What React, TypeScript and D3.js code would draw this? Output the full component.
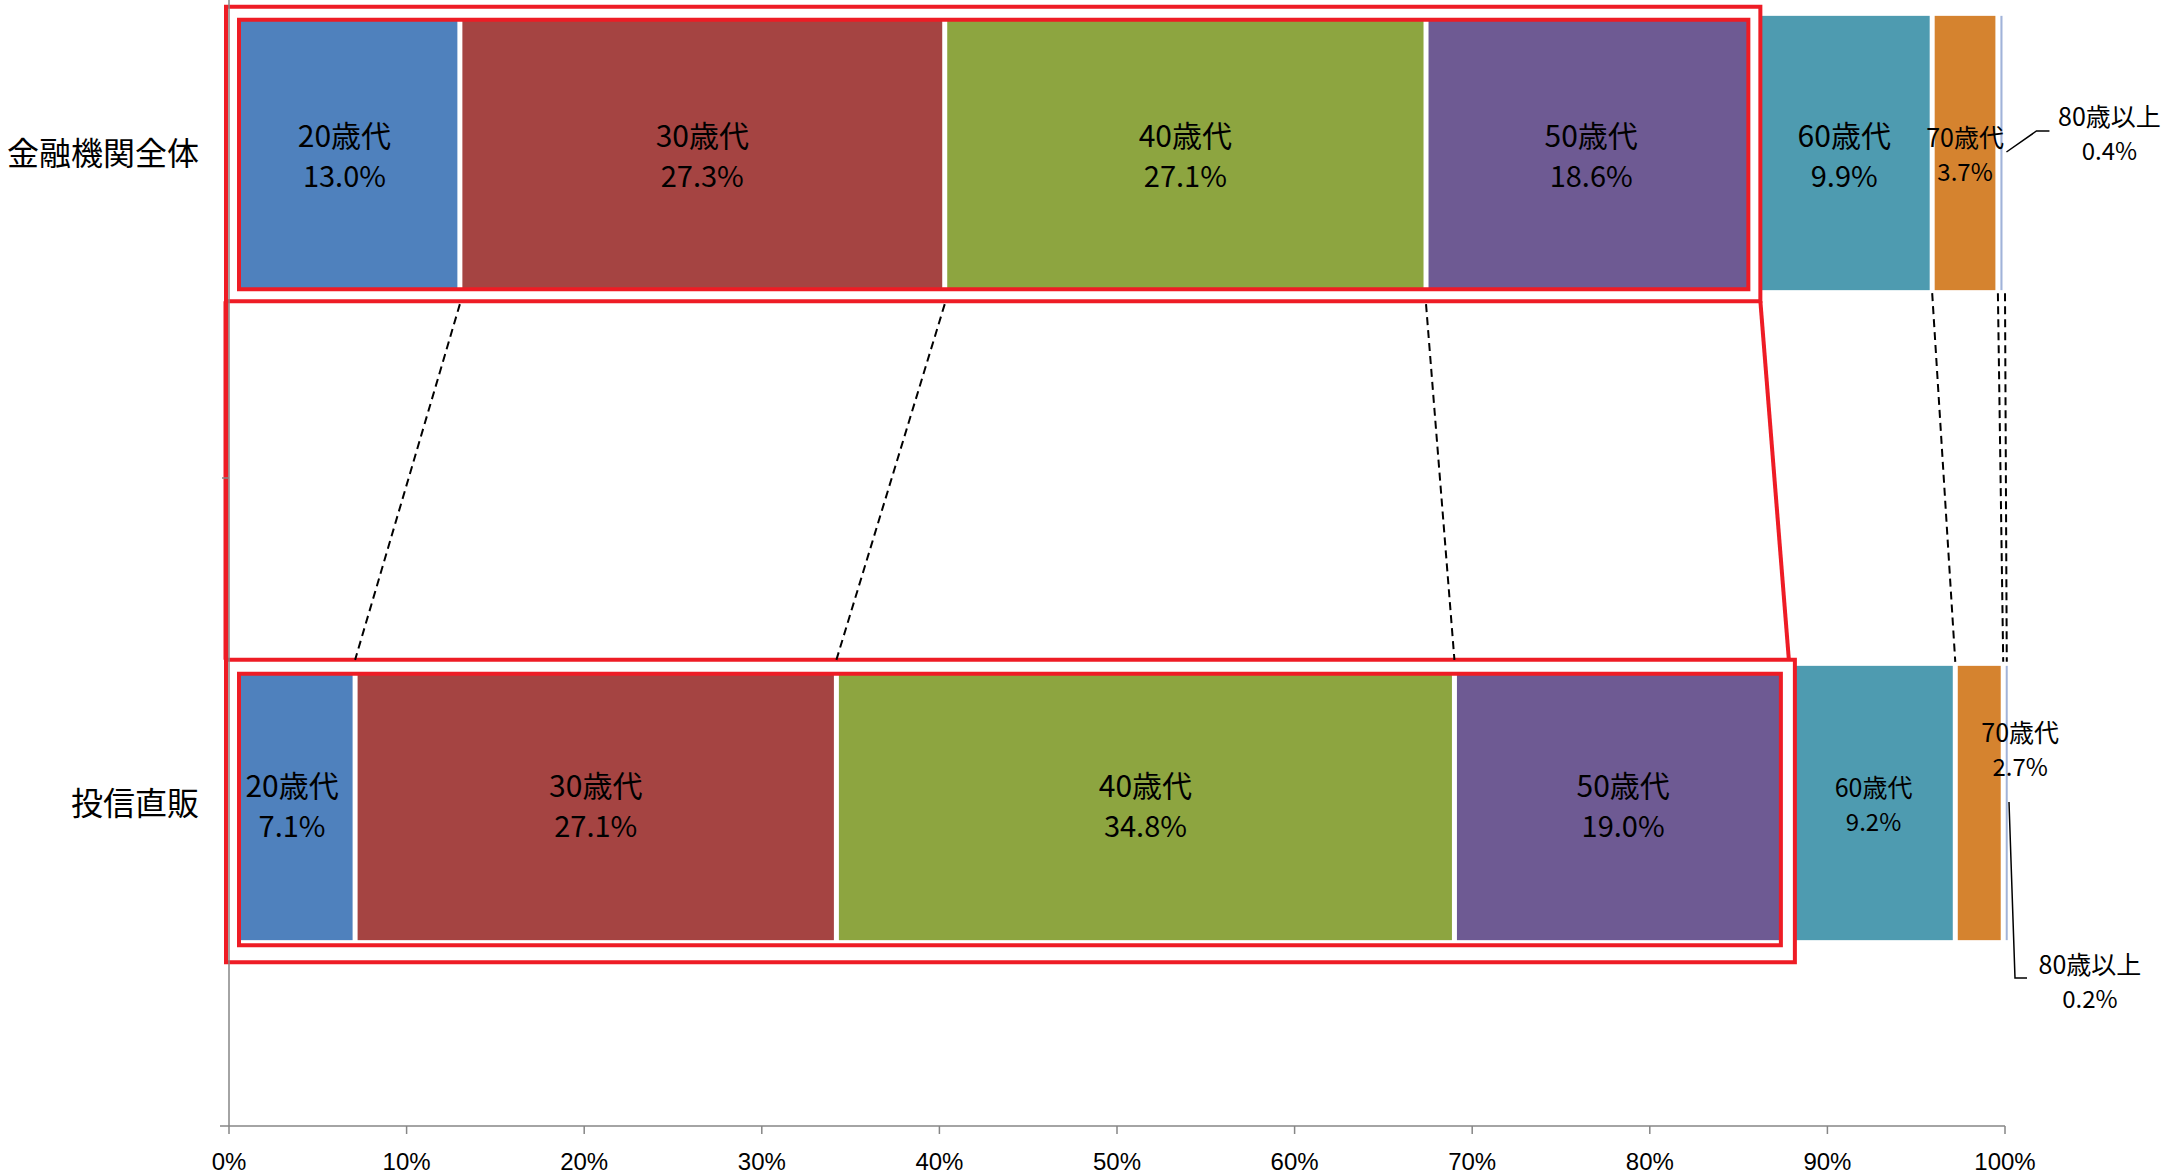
import React from "react";
import * as d3 from "d3";

const categories = ["金融機関全体", "投信直販"];
const ageGroups = ["20歳代", "30歳代", "40歳代", "50歳代", "60歳代", "70歳代", "80歳以上"];
const allInstitutions = [13.0, 27.3, 27.1, 18.6, 9.9, 3.7, 0.4];
const directSales = [7.1, 27.1, 34.8, 19.0, 9.2, 2.7, 0.2];
const seriesValues = [allInstitutions, directSales];
const xTicks = [0, 10, 20, 30, 40, 50, 60, 70, 80, 90, 100];

const colors = ["#4F81BD", "#A54442", "#8DA540", "#6E5A93", "#4E9BB0", "#D5832F", "#A1B3D9"];

const W = 2181;
const H = 1175;
const FONT = "'Noto Sans CJK JP', 'Noto Sans', sans-serif";
const RED = "#EE1C25";

// label placement tweaks: [row][segment] -> small font / offsets / leader
type LabelStyle = { small?: boolean; dx?: number; dy?: number; leader?: [number, number][] };
const labelStyles: Record<string, LabelStyle> = {
  "0-5": { small: true },
  "0-6": { small: true, dx: 108, dy: -21, leader: [[5, -1], [35, -22], [48, -22]] },
  "1-4": { small: true },
  "1-5": { small: true, dx: 41, dy: -55 },
  "1-6": { small: true, dx: 85, dy: 177, leader: [[4, -1], [10, 175], [22, 175]] },
};

export default function App() {
  const x = d3.scaleLinear().domain([0, 100]).range([229, 2005]);
  const y = d3
    .scaleBand<string>()
    .domain(categories)
    .range([-172, 1128])
    .paddingInner(0.578)
    .paddingOuter(0.289);
  const bh = y.bandwidth();
  const axisY = 1126;

  const stacks = seriesValues.map((vals) => {
    let acc = 0;
    return vals.map((v) => {
      const s = acc;
      acc += v;
      return [s, acc];
    });
  });

  const top0 = y(categories[0])!;
  const top1 = y(categories[1])!;

  // zoom boxes around the 20-50s segments
  const box0 = {
    outer: [x(0) - 3, top0 - 9, x(stacks[0][3][1]) + 4, top0 + bh + 11],
    inner: [x(0) + 10, top0 + 4, x(stacks[0][3][1]) - 8, top0 + bh - 1],
  };
  const box1 = {
    outer: [x(0) - 3, top1 - 6, x(stacks[1][3][1]) + 3, top1 + bh + 22],
    inner: [x(0) + 10, top1 + 8, x(stacks[1][3][1]) - 11, top1 + bh + 5],
  };
  const rectPath = (r: number[]) => `M${r[0]},${r[1]}H${r[2]}V${r[3]}H${r[0]}Z`;

  const dashed: { x1: number; y1: number; x2: number; y2: number }[] = [];
  for (let i = 0; i < ageGroups.length; i++) {
    if (i === 3) continue;
    const inside = i < 3;
    dashed.push({
      x1: x(stacks[0][i][1]),
      y1: inside ? box0.outer[3] + 3 : top0 + bh + 3,
      x2: x(stacks[1][i][1]),
      y2: inside ? box1.outer[1] : top1 - 4,
    });
  }

  const midTick = top0 + bh / 2 + y.step() / 2;

  return (
    <svg
      width={W}
      height={H}
      style={{ position: "absolute", left: 0, top: 0, background: "#fff" }}
      fontFamily={FONT}
    >
      {/* bars */}
      {categories.map((c, ci) =>
        stacks[ci].map(([s, e], i) => {
          const x0 = x(s) + 2.5;
          const w = Math.max(2, x(e) - x(s) - 5);
          return (
            <rect key={`${ci}-${i}`} x={x0} y={y(c)} width={w} height={bh} fill={colors[i]} />
          );
        })
      )}

      {/* zoom boxes */}
      {[box0, box1].map((b, i) => (
        <g key={i}>
          <path d={rectPath(b.outer) + rectPath(b.inner)} fill="#fff" fillRule="evenodd" />
          <path d={rectPath(b.outer)} fill="none" stroke={RED} strokeWidth={4} />
          <path d={rectPath(b.inner)} fill="none" stroke={RED} strokeWidth={4} />
        </g>
      ))}
      <line
        x1={box0.outer[0]}
        y1={box0.outer[3]}
        x2={box1.outer[0]}
        y2={box1.outer[1]}
        stroke={RED}
        strokeWidth={5}
      />
      <line
        x1={box0.outer[2]}
        y1={box0.outer[3]}
        x2={box1.outer[2] - 6}
        y2={box1.outer[1]}
        stroke={RED}
        strokeWidth={4}
      />

      {dashed.map((d, i) => (
        <line key={i} {...d} stroke="#000" strokeWidth={2} strokeDasharray="8,5" />
      ))}

      {/* axes */}
      <line x1={x(0)} y1={0} x2={x(0)} y2={axisY} stroke="#868686" strokeWidth={1.5} />
      <line x1={x(0) - 9} y1={axisY} x2={x(100)} y2={axisY} stroke="#868686" strokeWidth={1.5} />
      <line x1={x(0) - 7} y1={midTick} x2={x(0)} y2={midTick} stroke="#868686" strokeWidth={1.5} />
      {xTicks.map((t) => (
        <g key={t} transform={`translate(${x(t)},${axisY})`}>
          <line y2={8} stroke="#868686" strokeWidth={1.5} />
          <text
            y={35}
            textAnchor="middle"
            dominantBaseline="central"
            fontSize={24}
            fontFamily="'Liberation Sans Narrow', 'Liberation Sans', sans-serif"
            fill="#000"
          >
            {t}%
          </text>
        </g>
      ))}

      {/* category labels */}
      {categories.map((c) => (
        <text
          key={c}
          x={199}
          y={y(c)! + bh / 2 - 2}
          textAnchor="end"
          dominantBaseline="central"
          fontSize={32}
          fill="#000"
        >
          {c}
        </text>
      ))}

      {/* segment labels */}
      {categories.map((c, ci) =>
        stacks[ci].map(([s, e], i) => {
          const st = labelStyles[`${ci}-${i}`] || {};
          const cx = x((s + e) / 2);
          const cy = y(c)! + bh / 2;
          const tx = cx + (st.dx || 0);
          const ty = cy + (st.dy || 0);
          const fs1 = st.small ? 25 : 30;
          const fs2 = st.small ? 24 : 29;
          const up = st.small ? 17 : 19;
          const down = st.small ? 17 : 21;
          return (
            <g key={`l-${ci}-${i}`}>
              {st.leader && (
                <polyline
                  points={st.leader.map(([px, py]) => `${cx + px},${cy + py}`).join(" ")}
                  fill="none"
                  stroke="#000"
                  strokeWidth={1.5}
                />
              )}
              <text x={tx} y={ty - up} textAnchor="middle" dominantBaseline="central" fontSize={fs1} fill="#000">
                {ageGroups[i]}
              </text>
              <text x={tx} y={ty + down} textAnchor="middle" dominantBaseline="central" fontSize={fs2} fill="#000">
                {seriesValues[ci][i].toFixed(1)}%
              </text>
            </g>
          );
        })
      )}
    </svg>
  );
}
